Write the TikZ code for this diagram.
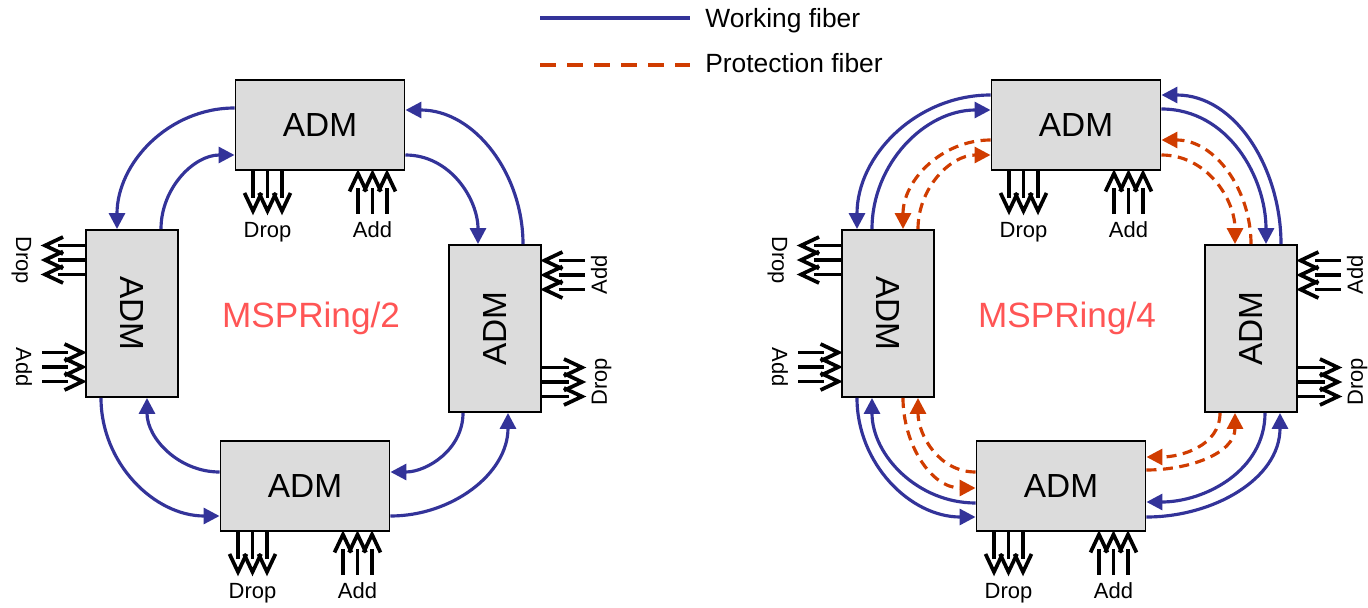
\documentclass[tikz,border=0pt]{standalone}
\usepackage{fontspec}
\setmainfont{Liberation Sans}
\usepackage{graphicx}
\usepackage{xcolor}
\usepackage{tikz}
\usetikzlibrary{arrows.meta,positioning,calc}
\definecolor{fiberblue}{HTML}{333399}
\definecolor{fiberred}{HTML}{D03C00}
\definecolor{ringred}{HTML}{FF5555}
\definecolor{admgray}{HTML}{DCDCDC}
\tikzset{
  admbox/.style={
    rectangle, draw=black, fill=admgray, line width=1.1pt,
    font=\fontsize{19pt}{22pt}\selectfont, inner sep=0pt
  },
  hadm/.style={admbox, minimum width=3.38cm, minimum height=1.8cm},
  vadm/.style={admbox, minimum width=1.84cm, minimum height=3.34cm},
  workfiber/.style={
    -{Triangle[length=0.32cm,width=0.32cm]}, line width=1.8pt, color=fiberblue
  },
  protfiber/.style={
    workfiber, color=fiberred, dash pattern=on 0.2cm off 0.13cm
  },
  adline/.style={line width=2.1pt},
  adbarb/.style={line width=2.1pt, line join=miter},
  iolabel/.style={font=\fontsize{12.5pt}{15pt}\selectfont, inner sep=0pt},
  ringlabel/.style={font=\fontsize{20pt}{24pt}\selectfont, text=ringred, inner sep=0pt},
  legendtext/.style={font=\fontsize{15pt}{18pt}\selectfont, inner sep=0pt},
}
\begin{document}
\begin{tikzpicture}
\useasboundingbox (0,0) rectangle (27.36,12.14);

% legend
\coordinate (wfa) at (10.8,11.78);
\coordinate (wfb) at (13.8,11.78);
\coordinate (pfa) at (10.8,10.84);
\coordinate (pfb) at (13.8,10.84);
\draw[line width=1.8pt, color=fiberblue] (wfa) -- (wfb);
\draw[line width=1.8pt, color=fiberred, dash pattern=on 0.32cm off 0.22cm] (pfa) -- (pfb);
\node[legendtext, anchor=base west] (wtext) at (14.1,11.58) {Working fiber};
\node[legendtext, anchor=base west] (ptext) at (14.1,10.70) {Protection fiber};

% MSPRing/2
\node[hadm] (T1) at (6.40,9.64) {ADM};
\node[vadm] (L1) at (2.64,5.87) {\rotatebox{-90}{ADM}};
\node[vadm] (R1) at (9.90,5.57) {\rotatebox{90}{ADM}};
\node[hadm] (B1) at (6.10,2.42) {ADM};
\node[ringlabel, anchor=base] (ring1) at (6.22,5.60) {MSPRing/2};

% MSPRing/4
\node[hadm] (T2) at (21.52,9.64) {ADM};
\node[vadm] (L2) at (17.76,5.87) {\rotatebox{-90}{ADM}};
\node[vadm] (R2) at (25.02,5.57) {\rotatebox{90}{ADM}};
\node[hadm] (B2) at (21.22,2.42) {ADM};
\node[ringlabel, anchor=base] (ring2) at (21.34,5.60) {MSPRing/4};

% add / drop
\foreach \b in {T1,B1,T2,B2}{
  \foreach \dx in {-1.34,-1.05,-0.76}{
    \draw[adline] ([xshift=\dx cm]\b.south) -- ++(0,-0.54);
    \draw[adbarb] ([xshift=\dx cm,yshift=-0.8cm]\b.south) ++(-0.17,0.36) -- ++(0.17,-0.36) -- ++(0.17,0.36);
  }
  \foreach \dx in {0.76,1.05,1.34}{
    \draw[adline] ([xshift=\dx cm,yshift=-0.86cm]\b.south) -- ++(0,0.52);
    \draw[adbarb] ([xshift=\dx cm,yshift=-0.05cm]\b.south) ++(-0.17,-0.36) -- ++(0.17,0.36) -- ++(0.17,-0.36);
  }
  \node[iolabel, anchor=base] (\b-drop) at ([xshift=-1.05cm,yshift=-1.34cm]\b.south) {Drop};
  \node[iolabel, anchor=base] (\b-add) at ([xshift=1.05cm,yshift=-1.34cm]\b.south) {Add};
}
\foreach \b in {L1,L2}{
  \foreach \dy in {0.78,1.07,1.36}{
    \draw[adline] ([yshift=\dy cm]\b.west) -- ++(-0.54,0);
    \draw[adbarb] ([xshift=-0.8cm,yshift=\dy cm]\b.west) ++(0.36,0.17) -- ++(-0.36,-0.17) -- ++(0.36,-0.17);
  }
  \foreach \dy in {-0.78,-1.07,-1.36}{
    \draw[adline] ([xshift=-0.86cm,yshift=\dy cm]\b.west) -- ++(0.52,0);
    \draw[adbarb] ([xshift=-0.05cm,yshift=\dy cm]\b.west) ++(-0.36,0.17) -- ++(0.36,-0.17) -- ++(-0.36,-0.17);
  }
  \node[iolabel, rotate=-90, anchor=base] (\b-drop) at ([xshift=-1.38cm,yshift=1.07cm]\b.west) {Drop};
  \node[iolabel, rotate=-90, anchor=base] (\b-add) at ([xshift=-1.38cm,yshift=-1.07cm]\b.west) {Add};
}
\foreach \b in {R1,R2}{
  \foreach \dy in {0.78,1.07,1.36}{
    \draw[adline] ([xshift=0.86cm,yshift=\dy cm]\b.east) -- ++(-0.52,0);
    \draw[adbarb] ([xshift=0.05cm,yshift=\dy cm]\b.east) ++(0.36,0.17) -- ++(-0.36,-0.17) -- ++(0.36,-0.17);
  }
  \foreach \dy in {-0.78,-1.07,-1.36}{
    \draw[adline] ([yshift=\dy cm]\b.east) -- ++(0.54,0);
    \draw[adbarb] ([xshift=0.8cm,yshift=\dy cm]\b.east) ++(-0.36,0.17) -- ++(0.36,-0.17) -- ++(-0.36,-0.17);
  }
  \node[iolabel, rotate=90, anchor=base] (\b-add) at ([xshift=1.30cm,yshift=1.07cm]\b.east) {Add};
  \node[iolabel, rotate=90, anchor=base] (\b-drop) at ([xshift=1.30cm,yshift=-1.07cm]\b.east) {Drop};
}

% ring 1 fibers
\draw[workfiber] ([yshift=0.34cm]T1.west) to[out=180,in=90] ([xshift=-0.30cm]L1.north);
\draw[workfiber] ([xshift=0.58cm]L1.north) to[out=90,in=180] ([yshift=-0.60cm]T1.west);
\draw[workfiber] ([xshift=0.56cm]R1.north) to[out=90,in=0] ([yshift=0.30cm]T1.east);
\draw[workfiber] ([yshift=-0.60cm]T1.east) to[out=0,in=90] ([xshift=-0.34cm]R1.north);
\draw[workfiber] ([xshift=-0.62cm]L1.south) to[out=-90,in=180] ([yshift=-0.60cm]B1.west);
\draw[workfiber] ([yshift=0.28cm]B1.west) to[out=180,in=-90] ([xshift=0.30cm]L1.south);
\draw[workfiber] ([xshift=-0.64cm]R1.south) to[out=-90,in=0] ([yshift=0.28cm]B1.east);
\draw[workfiber] ([yshift=-0.60cm]B1.east) to[out=0,in=-90] ([xshift=0.26cm]R1.south);

% ring 2 fibers
\draw[workfiber] ([yshift=0.60cm]T2.west) to[out=180,in=90] ([xshift=-0.62cm]L2.north);
\draw[workfiber] ([xshift=-0.32cm]L2.north) to[out=90,in=180] ([yshift=0.30cm]T2.west);
\draw[protfiber] ([yshift=-0.30cm]T2.west) to[out=180,in=90] ([xshift=0.30cm]L2.north);
\draw[protfiber] ([xshift=0.60cm]L2.north) to[out=90,in=180] ([yshift=-0.60cm]T2.west);

\draw[workfiber] ([xshift=0.60cm]R2.north) to[out=90,in=0] ([yshift=0.60cm]T2.east);
\draw[workfiber] ([yshift=0.32cm]T2.east) to[out=0,in=90] ([xshift=0.30cm]R2.north);
\draw[protfiber] (R2.north) to[out=90,in=0] ([yshift=-0.30cm]T2.east);
\draw[protfiber] ([yshift=-0.60cm]T2.east) to[out=0,in=90] ([xshift=-0.32cm]R2.north);

\draw[workfiber] ([xshift=-0.62cm]L2.south) to[out=-90,in=180] ([yshift=-0.62cm]B2.west);
\draw[workfiber] ([yshift=-0.34cm]B2.west) to[out=180,in=-90] ([xshift=-0.32cm]L2.south);
\draw[protfiber] ([xshift=0.30cm]L2.south) to[out=-90,in=180] ([yshift=-0.04cm]B2.west);
\draw[protfiber] ([yshift=0.28cm]B2.west) to[out=180,in=-90] ([xshift=0.60cm]L2.south);

\draw[workfiber] ([xshift=0.28cm]R2.south) to[out=-90,in=0] ([yshift=-0.32cm]B2.east);
\draw[workfiber] ([yshift=-0.62cm]B2.east) to[out=0,in=-90] ([xshift=0.58cm]R2.south);
\draw[protfiber] ([xshift=-0.62cm]R2.south) to[out=-90,in=0] ([yshift=0.58cm]B2.east);
\draw[protfiber] ([yshift=0.32cm]B2.east) to[out=0,in=-90] ([xshift=-0.32cm]R2.south);

\end{tikzpicture}
\end{document}
